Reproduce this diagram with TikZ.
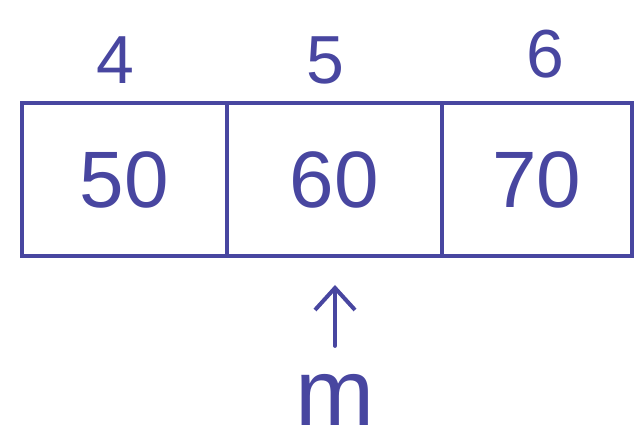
\documentclass[tikz,border=0pt]{standalone}
\usepackage{fontspec}
\setmainfont{Liberation Sans}
\usetikzlibrary{arrows.meta}
\definecolor{ink}{RGB}{72,70,160}
\begin{document}
\begin{tikzpicture}[x=1pt,y=1pt,
  cell/.style={draw=ink, line width=3.5pt, minimum height=153pt, inner sep=0pt,
    text=ink, font=\fontsize{80}{80}\selectfont, anchor=south west},
  idx/.style={text=ink, font=\fontsize{68}{68}\selectfont},
  lbl/.style={text=ink, font=\fontsize{95}{95}\selectfont},
  arr/.style={draw=ink, line width=4pt, -{Straight Barb[length=22pt,width=40pt,line width=4pt]}, line cap=round}]
\useasboundingbox (0,0) rectangle (643,446);
\node[cell, minimum width=205pt] (c1) at (20,188) {50};
\node[cell, minimum width=215pt] (c2) at (225,188) {60};
\node[cell, minimum width=190pt] (c3) at (440,188) {70};
\node[idx] (i4) at (115,386) {4};
\node[idx] (i5) at (325,386) {5};
\node[idx] (i6) at (545,392) {6};
\node[lbl] (m) at (335,46) {m};
\draw[arr, shorten <=25pt, shorten >=27pt] (m.north) -- (m.north |- c2.south);
\end{tikzpicture}
\end{document}
